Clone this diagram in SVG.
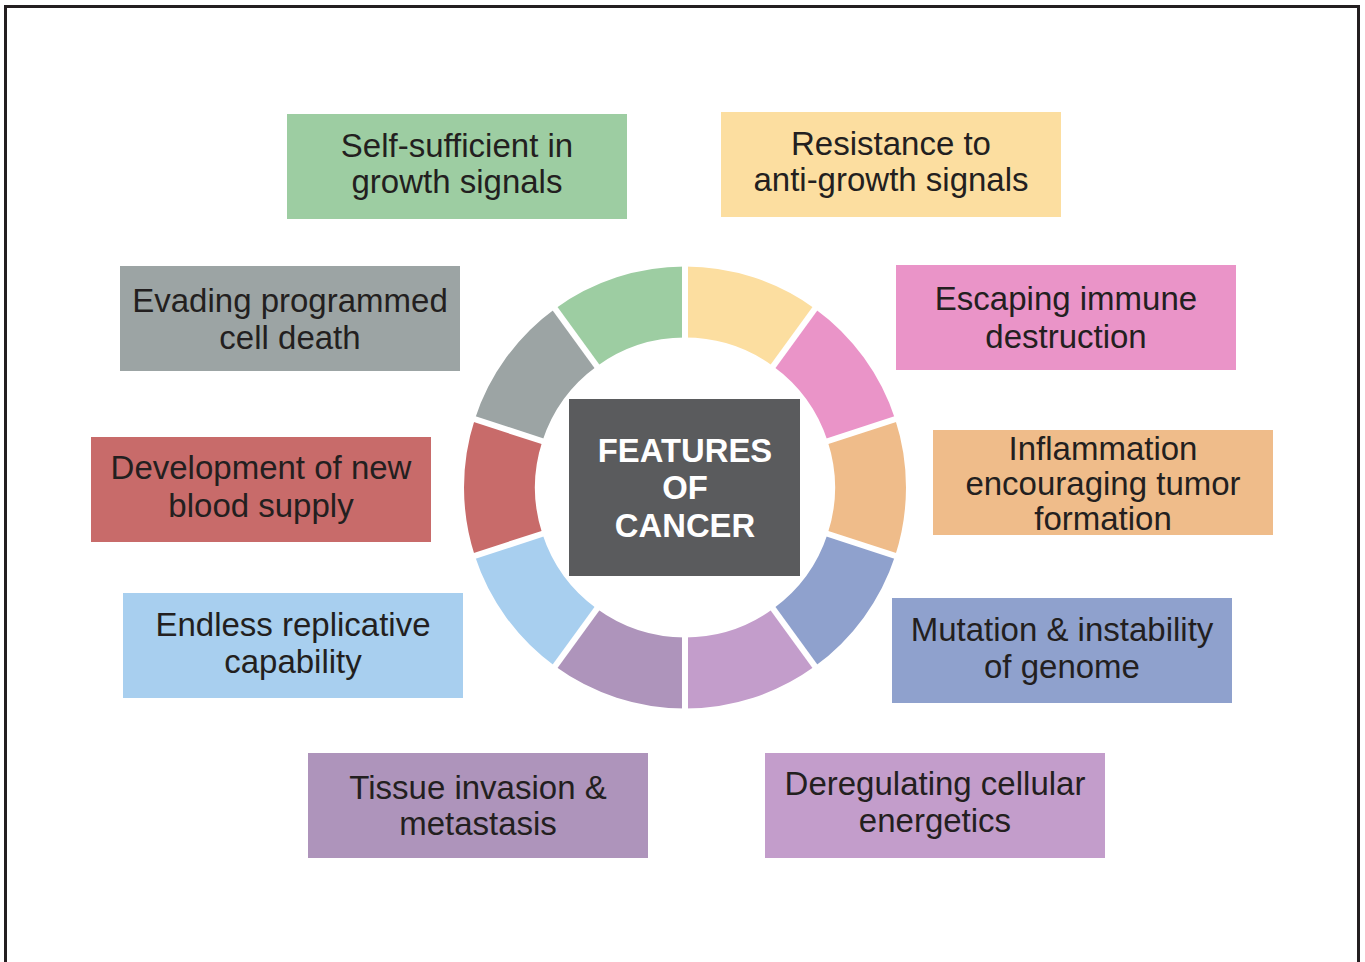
<svg xmlns="http://www.w3.org/2000/svg" width="1365" height="962" viewBox="0 0 1365 962">
<style>
.lbl{font-family:"Liberation Sans",Arial,sans-serif;font-size:33px;fill:#231f20;text-anchor:middle}
.ctr{font-family:"Liberation Sans",Arial,sans-serif;font-size:32.8px;font-weight:bold;fill:#ffffff;text-anchor:middle}
.gap{stroke:#ffffff;stroke-width:6}
</style>
<rect x="0" y="0" width="1365" height="962" fill="#ffffff"/>
<rect x="5.5" y="6.5" width="1353" height="1000" fill="none" stroke="#231f20" stroke-width="3"/>
<g id="ring">
<path d="M685,266.5 A221,221 0 0 1 814.9,308.71 L773.17,366.15 A150,150 0 0 0 685,337.5 Z" fill="#fcdea0"/>
<path d="M814.9,308.71 A221,221 0 0 1 895.18,419.21 L827.66,441.15 A150,150 0 0 0 773.17,366.15 Z" fill="#ea94c8"/>
<path d="M895.18,419.21 A221,221 0 0 1 895.18,555.79 L827.66,533.85 A150,150 0 0 0 827.66,441.15 Z" fill="#efbc8a"/>
<path d="M895.18,555.79 A221,221 0 0 1 814.9,666.29 L773.17,608.85 A150,150 0 0 0 827.66,533.85 Z" fill="#8fa1cd"/>
<path d="M814.9,666.29 A221,221 0 0 1 685,708.5 L685,637.5 A150,150 0 0 0 773.17,608.85 Z" fill="#c39dcb"/>
<path d="M685,708.5 A221,221 0 0 1 555.1,666.29 L596.83,608.85 A150,150 0 0 0 685,637.5 Z" fill="#ae94bb"/>
<path d="M555.1,666.29 A221,221 0 0 1 474.82,555.79 L542.34,533.85 A150,150 0 0 0 596.83,608.85 Z" fill="#a8cfef"/>
<path d="M474.82,555.79 A221,221 0 0 1 474.82,419.21 L542.34,441.15 A150,150 0 0 0 542.34,533.85 Z" fill="#c86b6a"/>
<path d="M474.82,419.21 A221,221 0 0 1 555.1,308.71 L596.83,366.15 A150,150 0 0 0 542.34,441.15 Z" fill="#9ca4a4"/>
<path d="M555.1,308.71 A221,221 0 0 1 685,266.5 L685,337.5 A150,150 0 0 0 596.83,366.15 Z" fill="#9dcda2"/>
<g class="gap">
<line x1="685" y1="347.5" x2="685" y2="257.5"/>
<line x1="767.29" y1="374.24" x2="820.19" y2="301.43"/>
<line x1="818.15" y1="444.24" x2="903.74" y2="416.43"/>
<line x1="818.15" y1="530.76" x2="903.74" y2="558.57"/>
<line x1="767.29" y1="600.76" x2="820.19" y2="673.57"/>
<line x1="685" y1="627.5" x2="685" y2="717.5"/>
<line x1="602.71" y1="600.76" x2="549.81" y2="673.57"/>
<line x1="551.85" y1="530.76" x2="466.26" y2="558.57"/>
<line x1="551.85" y1="444.24" x2="466.26" y2="416.43"/>
<line x1="602.71" y1="374.24" x2="549.81" y2="301.43"/>
</g>
</g>
<g id="center">
<rect x="569" y="399" width="231" height="177" fill="#5a5b5d"/>
<text class="ctr" x="685" y="461.7">FEATURES</text>
<text class="ctr" x="685" y="499">OF</text>
<text class="ctr" x="685" y="536.7">CANCER</text>
</g>
<g id="n-self-sufficient">
<rect x="287" y="114" width="340" height="105" fill="#9dcda2"/>
<text class="lbl" x="457" y="156.7">Self-sufficient in</text>
<text class="lbl" x="457" y="193.3">growth signals</text>
</g>
<g id="n-resistance">
<rect x="721" y="112" width="340" height="105" fill="#fcdea0"/>
<text class="lbl" x="891" y="155">Resistance to</text>
<text class="lbl" x="891" y="191">anti-growth signals</text>
</g>
<g id="n-evading">
<rect x="120" y="266" width="340" height="105" fill="#9ca4a4"/>
<text class="lbl" x="290" y="311.7">Evading programmed</text>
<text class="lbl" x="290" y="349.3">cell death</text>
</g>
<g id="n-escaping">
<rect x="896" y="265" width="340" height="105" fill="#ea94c8"/>
<text class="lbl" x="1066" y="310">Escaping immune</text>
<text class="lbl" x="1066" y="348.3">destruction</text>
</g>
<g id="n-development">
<rect x="91" y="437" width="340" height="105" fill="#c86b6a"/>
<text class="lbl" x="261" y="479.3">Development of new</text>
<text class="lbl" x="261" y="516.7">blood supply</text>
</g>
<g id="n-inflammation">
<rect x="933" y="430" width="340" height="105" fill="#efbc8a"/>
<text class="lbl" x="1103" y="460">Inflammation</text>
<text class="lbl" x="1103" y="494.5">encouraging tumor</text>
<text class="lbl" x="1103" y="530">formation</text>
</g>
<g id="n-endless">
<rect x="123" y="593" width="340" height="105" fill="#a8cfef"/>
<text class="lbl" x="293" y="635.7">Endless replicative</text>
<text class="lbl" x="293" y="672.7">capability</text>
</g>
<g id="n-mutation">
<rect x="892" y="598" width="340" height="105" fill="#8fa1cd"/>
<text class="lbl" x="1062" y="640.7">Mutation &amp; instability</text>
<text class="lbl" x="1062" y="678.3">of genome</text>
</g>
<g id="n-tissue">
<rect x="308" y="753" width="340" height="105" fill="#ae94bb"/>
<text class="lbl" x="478" y="799.3">Tissue invasion &amp;</text>
<text class="lbl" x="478" y="835">metastasis</text>
</g>
<g id="n-deregulating">
<rect x="765" y="753" width="340" height="105" fill="#c39dcb"/>
<text class="lbl" x="935" y="795">Deregulating cellular</text>
<text class="lbl" x="935" y="831.7">energetics</text>
</g>
<g id="connectors"/>
</svg>
